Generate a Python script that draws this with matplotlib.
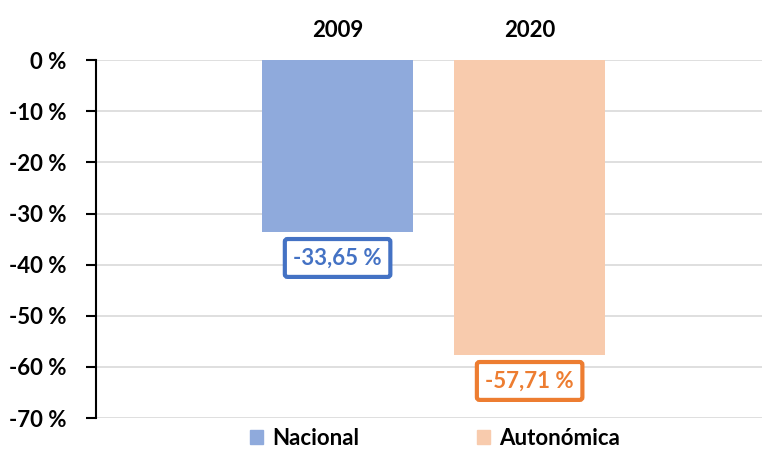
import matplotlib.pyplot as plt
from matplotlib.patches import Patch
from matplotlib.ticker import FuncFormatter

# data
series = ['Nacional', 'Autonómica']
years = ['2009', '2020']
values = [-33.65, -57.71]
value_labels = ['-33,65 %', '-57,71 %']

fill_colors = ['#8faadc', '#f8cbad']
edge_colors = ['#4472c4', '#ed7d31']

plt.rcParams['font.family'] = ['Lato', 'DejaVu Sans']
fs = 16

fig = plt.figure(figsize=(7.62, 4.49), dpi=100)
ax = fig.add_axes([0.126, 0.069, 0.874, 0.797])

x = [0, 1]
for i in range(len(series)):
    bars = ax.bar(x[i], values[i], width=0.786, color=fill_colors[i], zorder=2)
    # boxed value label under the bar end
    ax.bar_label(bars, labels=[value_labels[i]], padding=11,
                 fontsize=fs, fontweight='bold', color=edge_colors[i],
                 bbox=dict(boxstyle='round,pad=0.38,rounding_size=0.12', fc='white',
                           ec=edge_colors[i], lw=3), zorder=3)

ax.set_xlim(-1.258, 2.21)
ax.set_ylim(-70, 0)
ax.set_yticks(range(-70, 1, 10))
ax.yaxis.set_major_formatter(FuncFormatter(lambda v, p: f'{int(v)} %'))
ax.grid(axis='y', color='#d9d9d9', linewidth=1.2, zorder=0)

# years on top
ax.xaxis.tick_top()
ax.set_xticks(x)
ax.set_xticklabels(years, fontsize=fs, fontweight='bold')
ax.tick_params(axis='x', length=0, pad=14)
ax.tick_params(axis='y', length=7, width=1.5, labelsize=fs, pad=14)
for lbl in ax.get_yticklabels():
    lbl.set_fontweight('bold')

for side in ['top', 'right', 'bottom']:
    ax.spines[side].set_visible(False)
ax.spines['left'].set_linewidth(1.5)

handles = [Patch(color=c, label=s) for c, s in zip(fill_colors, series)]
fig.legend(handles=handles, loc='center', bbox_to_anchor=(0.571, 0.024), ncol=2,
           frameon=False, handlelength=0.6, handleheight=0.6, handletextpad=0.4,
           columnspacing=5.3, prop={'size': fs, 'weight': 'bold'})

fig.savefig('out.png', dpi=100)
